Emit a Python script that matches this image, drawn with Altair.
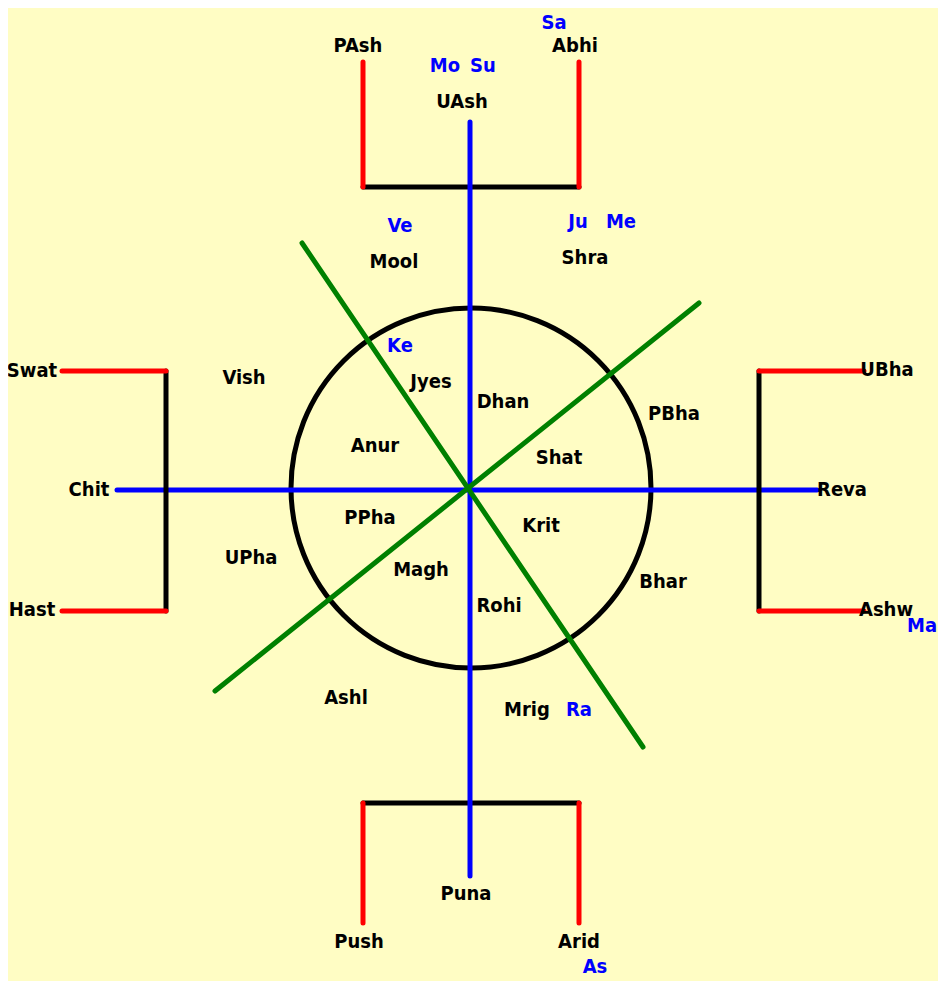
import altair as alt
import pandas as pd

# Diagram units: origin at the chakra centre, y upwards (1 unit ~ 1 px)
BG = "#FFFDC4"

# ---- line segments ----
seg_kind = ["blue", "black", "black", "black", "black",
            "red", "red", "red", "red", "red", "red", "red", "red",
            "blue", "green", "green"]
seg_x1 = [-352, -106, -106, -303, 290,
          -106, 110, -106, 110, -407, -407, 290, 290,
          1, -167, 230]
seg_y1 = [-1, 302, -314, 118, 118,
          427, 427, -314, -314, 118, -122, 118, -122,
          367, 246, 186]
seg_x2 = [348, 110, 110, -303, 290,
          -106, 110, -106, 110, -303, -303, 395, 395,
          1, 174, -254]
seg_y2 = [-1, 302, -314, -122, -122,
          302, 302, -434, -434, 118, -122, 118, -122,
          -387, -258, -202]

# ---- circle ----
circle_cx = [2]
circle_cy = [1]
circle_diameter = 360

# ---- labels ----
lab_text = ["PAsh", "Abhi", "Sa", "Mo", "Su", "UAsh",
            "Ve", "Mool", "Ju", "Me", "Shra",
            "Swat", "Vish", "Ke", "Jyes", "Dhan", "UBha", "PBha",
            "Anur", "Shat", "Chit", "Reva", "PPha", "Krit",
            "UPha", "Magh", "Bhar", "Rohi", "Hast", "Ashw", "Ma",
            "Ashl", "Mrig", "Ra", "Puna", "Push", "Arid", "As"]
lab_x = [-111, 106, 85, -24, 14, -7,
         -69, -75, 109, 152, 116,
         -437, -225, -69, -38, 34, 418, 205,
         -94, 90, -380, 373, -99, 72,
         -218, -48, 194, 30, -437, 417, 453,
         -123, 58, 110, -3, -110, 110, 126]
lab_y = [444, 444, 467, 424, 424, 388,
         264, 228, 268, 268, 232,
         119, 112, 144, 108, 88, 120, 76,
         44, 32, 0, 0, -28, -36,
         -68, -80, -92, -116, -120, -120, -136,
         -208, -220, -220, -404, -452, -452, -477]
lab_kind = ["star", "star", "planet", "planet", "planet", "star",
            "planet", "star", "planet", "planet", "star",
            "star", "star", "planet", "star", "star", "star", "star",
            "star", "star", "star", "star", "star", "star",
            "star", "star", "star", "star", "star", "star", "planet",
            "star", "star", "planet", "star", "star", "star", "planet"]

segs = pd.DataFrame({"kind": seg_kind, "x": seg_x1, "y": seg_y1,
                     "x2": seg_x2, "y2": seg_y2})
circ = pd.DataFrame({"x": circle_cx, "y": circle_cy})
labs = pd.DataFrame({"text": lab_text, "x": lab_x, "y": lab_y, "kind": lab_kind})

xs = alt.Scale(domain=[-461, 469], nice=False, zero=False)
ys = alt.Scale(domain=[-492, 481], nice=False, zero=False)

seg_colors = alt.Scale(domain=["blue", "black", "red", "green"],
                       range=["#0000FF", "#000000", "#FF0000", "#008000"])

circle = alt.Chart(circ).mark_point(
    shape="circle", filled=False, size=circle_diameter ** 2,
    strokeWidth=5, color="black", opacity=1
).encode(
    x=alt.X("x:Q", scale=xs, axis=None),
    y=alt.Y("y:Q", scale=ys, axis=None),
)

lines = alt.Chart(segs).mark_rule(strokeWidth=5, strokeCap="round").encode(
    x=alt.X("x:Q", scale=xs, axis=None),
    y=alt.Y("y:Q", scale=ys, axis=None),
    x2="x2:Q",
    y2="y2:Q",
    color=alt.Color("kind:N", scale=seg_colors, legend=None),
)

texts = alt.Chart(labs).mark_text(
    font="DejaVu Sans Condensed, Liberation Sans, DejaVu Sans",
    fontWeight="bold", fontSize=20, align="center", baseline="middle", dy=1
).encode(
    x=alt.X("x:Q", scale=xs, axis=None),
    y=alt.Y("y:Q", scale=ys, axis=None),
    text="text:N",
    color=alt.Color("kind:N", scale=alt.Scale(domain=["star", "planet"],
                                             range=["#000000", "#0000FF"]), legend=None),
)

chart = alt.layer(circle, lines, texts).resolve_scale(color="independent").properties(
    width=930, height=973, padding=0, autosize="none", background=BG
).configure_view(stroke=None)

chart.save("out.html", embed_options={"renderer": "svg", "actions": False})
